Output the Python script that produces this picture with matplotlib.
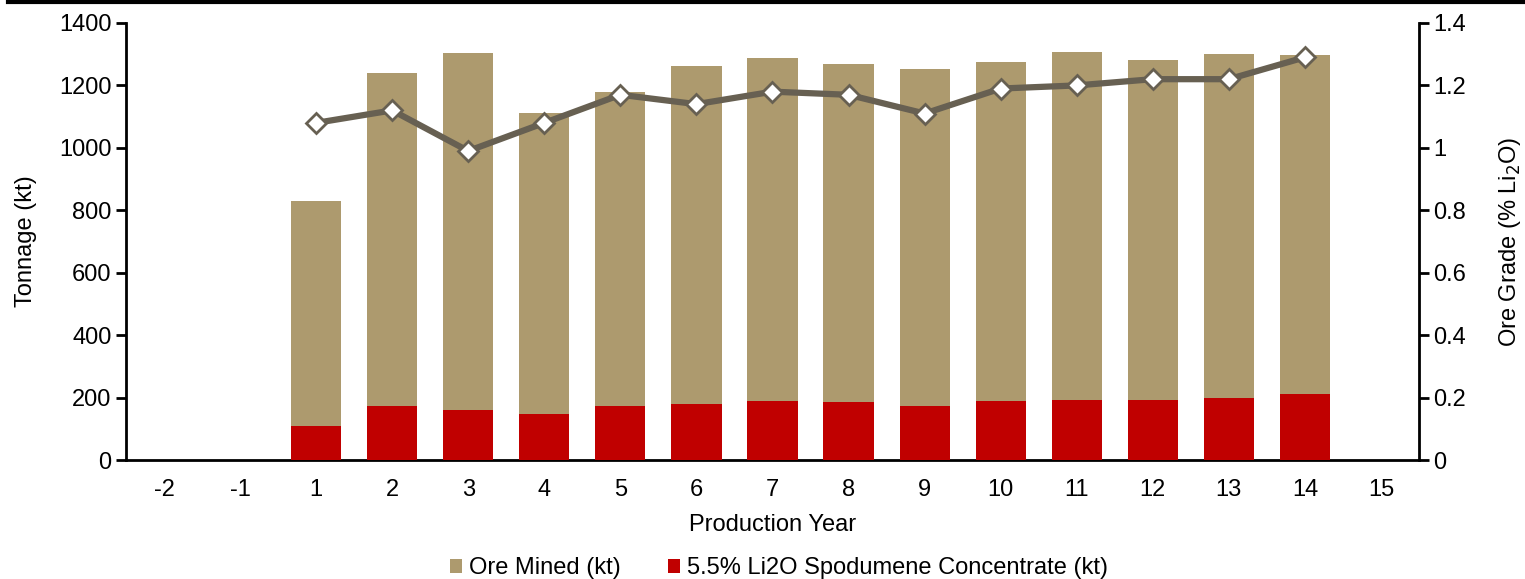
import numpy as np
import matplotlib.pyplot as plt
from matplotlib.lines import Line2D

plt.rcParams['font.family'] = ['Liberation Sans', 'DejaVu Sans']

# data
years = ['-2', '-1', '1', '2', '3', '4', '5', '6', '7', '8', '9', '10', '11', '12', '13', '14', '15']
ore_mined = [0, 0, 830, 1240, 1303, 1112, 1179, 1262, 1288, 1269, 1253, 1275, 1307, 1282, 1301, 1297, 0]
concentrate = [0, 0, 110, 173, 160, 148, 173, 180, 188, 185, 173, 188, 193, 193, 198, 210, 0]
grade = [np.nan, np.nan, 1.08, 1.12, 0.99, 1.08, 1.17, 1.14, 1.18, 1.17, 1.11, 1.19, 1.20, 1.22, 1.22, 1.29, np.nan]

TAN = '#AD9A6E'
RED = '#C00000'
LINE = '#676052'
FS = 17

fig = plt.figure(figsize=(15.25, 5.79), dpi=100)
ax = fig.add_axes([0.0826, 0.2055, 0.8479, 0.7548])
x = np.arange(len(years))
w = 0.66
ax.bar(x, ore_mined, width=w, color=TAN, label='Ore Mined (kt)', zorder=2)
ax.bar(x, concentrate, width=w, color=RED, label='5.5% Li2O Spodumene Concentrate (kt)', zorder=3)

ax.set_xlim(-0.5, len(years) - 0.5)
ax.set_ylim(0, 1400)
ax.set_yticks(np.arange(0, 1401, 200))
ax.set_xticks(x)
ax.set_xticklabels(years)
ax.tick_params(axis='x', length=0, pad=14, labelsize=FS)
ax.tick_params(axis='y', length=7, width=2, labelsize=FS, direction='out')
for s in ['top', 'right']:
    ax.spines[s].set_visible(False)
ax.spines['left'].set_linewidth(2)
ax.spines['bottom'].set_linewidth(2)
ax.set_ylabel('Tonnage (kt)', fontsize=FS, labelpad=16)
ax.set_xlabel('Production Year', fontsize=FS, labelpad=9)

ax2 = ax.twinx()
ax2.plot(x, grade, color=LINE, lw=4.5, marker='D', markersize=10,
         markerfacecolor='white', markeredgecolor=LINE, markeredgewidth=2, zorder=5)
ax2.set_ylim(0, 1.4)
ax2.set_yticks(np.arange(0, 1.41, 0.2))
ax2.set_yticklabels(['0', '0.2', '0.4', '0.6', '0.8', '1', '1.2', '1.4'])
ax2.tick_params(axis='y', length=7, width=2, labelsize=FS, direction='out')
for s in ['top', 'left', 'bottom']:
    ax2.spines[s].set_visible(False)
ax2.spines['right'].set_linewidth(2)
ax2.set_ylabel('Ore Grade (% Li$_2$O)', fontsize=FS, labelpad=22)

ax.legend(loc='center', bbox_to_anchor=(0.505, -0.248), ncol=2, frameon=False,
          fontsize=FS, handlelength=0.5, handleheight=0.5, handletextpad=0.3, columnspacing=2.0)

fig.add_artist(Line2D([0.005, 1.0], [0.997, 0.997], color='black', lw=3, transform=fig.transFigure))

fig.savefig('out.png', dpi=100)
